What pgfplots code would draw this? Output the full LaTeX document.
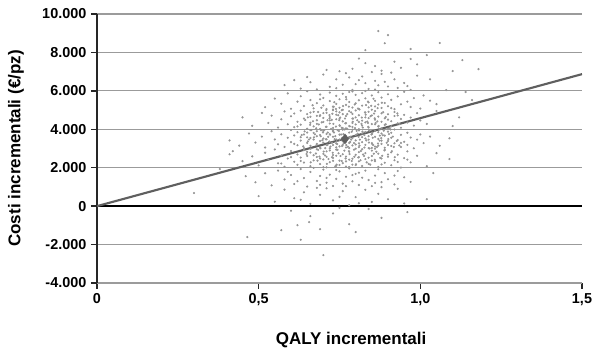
\documentclass[border=0pt]{standalone}
\usepackage{pgfplots}
\pgfplotsset{compat=1.18}
\usepackage{fontspec}
\setmainfont{Liberation Sans}
\definecolor{gridc}{RGB}{155,155,155}
\definecolor{dotc}{RGB}{150,150,150}
\definecolor{linec}{RGB}{95,95,95}
\begin{document}
\begin{tikzpicture}
\begin{axis}[
  scale only axis, width=363.75pt, height=201.75pt,
  xmin=0, xmax=1.5, ymin=-4000, ymax=10000,
  scaled y ticks=false, scaled x ticks=false,
  axis x line*=bottom, axis y line*=left,
  axis line style={-},
  x axis line style={gridc, line width=0.8pt},
  y axis line style={black!85, line width=1.3pt},
  xtick={0,0.5,1,1.5}, xticklabels={0,{0,5},{1,0},{1,5}},
  ytick={-4000,-2000,0,2000,4000,6000,8000,10000},
  yticklabels={-4.000,-2.000,0,2.000,4.000,6.000,8.000,10.000},
  /pgf/number format/assume math mode=true,
  tick align=outside, major tick length=4.5pt,
  tick style={black!85, line width=1.1pt},
  ymajorgrids, grid style={gridc, line width=0.8pt},
  ticklabel style={font=\bfseries\fontsize{10.8}{12}\selectfont},
  label style={font=\bfseries\fontsize{12.75}{14}\selectfont},
  xlabel={QALY incrementali}, ylabel={Costi incrementali (€/pz)},
  xlabel style={at={(axis description cs:0.524,-0.212)}, anchor=center},
  ylabel style={at={(axis description cs:-0.167,0.5)}, anchor=center},
]
\coordinate (ll) at (rel axis cs:0,0);
\coordinate (ur) at (rel axis cs:1,1);
\addplot[only marks, color=dotc, mark=*, mark size=0.6pt, mark options={draw=none, fill=dotc}] table {
x y
0.87 9110
0.90 8900
0.89 8480
1.06 8490
0.97 8180
0.83 8120
1.02 7860
1.13 7600
0.97 7660
1.18 7130
1.10 7030
0.83 7440
0.86 7290
0.79 7150
0.92 7520
0.88 7050
0.75 7020
0.94 7200
0.81 7680
0.71 7090
0.99 7380
1.03 6600
1.08 6040
0.63 6120
0.58 6300
0.66 6450
0.70 6850
0.74 6600
0.77 6920
0.80 6350
0.82 6750
0.84 6100
0.86 6520
0.88 6880
0.90 6230
0.92 6600
0.95 6410
0.97 6050
0.99 6790
0.72 6210
0.76 6320
0.79 6050
0.81 6560
0.85 6980
0.87 6290
0.89 6470
0.93 6150
0.68 6080
0.61 6560
0.74 6140
0.83 6400
0.91 6950
0.78 6700
0.65 6720
0.96 6250
0.86 6070
1.14 5940
1.16 5520
1.05 5310
1.01 5760
0.52 5150
0.55 5600
0.57 5330
0.59 5870
0.60 5070
0.62 5440
0.63 5720
0.64 5210
0.65 5980
0.66 5520
0.67 5090
0.68 5360
0.69 5810
0.70 5240
0.70 5630
0.71 5050
0.72 5470
0.72 5910
0.73 5180
0.74 5740
0.74 5320
0.75 5560
0.76 5010
0.76 5850
0.77 5270
0.77 5680
0.78 5420
0.79 5130
0.79 5970
0.80 5350
0.80 5790
0.81 5060
0.81 5510
0.82 5230
0.82 5880
0.83 5610
0.84 5140
0.84 5400
0.85 5760
0.85 5020
0.86 5480
0.87 5290
0.87 5930
0.88 5110
0.88 5650
0.89 5370
0.90 5820
0.90 5200
0.91 5530
0.92 5050
0.93 5710
0.94 5300
0.95 5950
0.96 5440
0.97 5160
0.98 5620
1.00 5080
1.03 5490
0.78 5940
0.73 5030
0.86 5190
0.69 5560
0.75 5120
0.83 5990
0.91 5100
0.45 4620
0.48 4180
0.51 4850
0.53 4330
0.54 4710
0.56 4090
0.57 4520
0.58 4930
0.59 4260
0.60 4680
0.61 4110
0.61 4820
0.62 4390
0.63 4970
0.63 4240
0.64 4560
0.65 4030
0.65 4790
0.66 4340
0.66 4650
0.67 4150
0.67 4910
0.68 4470
0.68 4280
0.69 4730
0.69 4020
0.70 4590
0.70 4380
0.71 4860
0.71 4130
0.72 4640
0.72 4300
0.73 4990
0.73 4070
0.74 4520
0.74 4760
0.75 4210
0.75 4880
0.76 4410
0.76 4060
0.77 4690
0.77 4320
0.78 4940
0.78 4170
0.79 4560
0.79 4800
0.80 4250
0.80 4620
0.81 4010
0.81 4730
0.82 4450
0.82 4190
0.83 4870
0.83 4360
0.84 4580
0.84 4090
0.85 4720
0.85 4270
0.86 4950
0.86 4500
0.87 4140
0.87 4660
0.88 4390
0.88 4830
0.89 4230
0.89 4570
0.90 4040
0.90 4780
0.91 4420
0.91 4160
0.92 4690
0.92 4900
0.93 4310
0.94 4540
0.94 4080
0.95 4750
0.96 4350
0.97 4610
0.98 4190
0.99 4840
1.00 4460
1.02 4280
1.05 4950
1.10 4170
1.12 4620
0.74 4930
0.79 4330
0.83 4620
0.70 4840
0.77 4050
0.86 4260
0.72 4460
0.80 4980
0.88 4040
0.76 4790
0.84 4910
0.66 4870
0.93 4720
0.62 4150
0.90 4500
0.68 4700
0.81 4380
0.75 4540
0.79 4120
0.41 3420
0.44 3150
0.47 3780
0.49 3310
0.51 3620
0.52 3050
0.54 3900
0.55 3470
0.56 3220
0.57 3740
0.58 3080
0.59 3560
0.60 3960
0.60 3330
0.61 3680
0.62 3170
0.62 3850
0.63 3410
0.64 3020
0.64 3730
0.65 3290
0.65 3580
0.66 3960
0.66 3140
0.67 3470
0.67 3810
0.68 3240
0.68 3640
0.69 3060
0.69 3390
0.70 3920
0.70 3520
0.71 3180
0.71 3760
0.72 3350
0.72 3010
0.73 3610
0.73 3890
0.74 3260
0.74 3470
0.75 3720
0.75 3110
0.76 3980
0.76 3380
0.77 3650
0.77 3050
0.78 3290
0.78 3830
0.79 3540
0.79 3160
0.80 3700
0.80 3420
0.81 3070
0.81 3940
0.82 3330
0.82 3590
0.83 3190
0.83 3860
0.84 3460
0.84 3020
0.85 3750
0.85 3280
0.86 3610
0.86 3920
0.87 3150
0.87 3500
0.88 3780
0.88 3240
0.89 3040
0.89 3670
0.90 3390
0.90 3880
0.91 3130
0.91 3560
0.92 3270
0.92 3990
0.93 3440
0.94 3710
0.94 3080
0.95 3350
0.96 3820
0.96 3190
0.97 3570
0.98 3010
0.99 3460
1.00 3730
1.01 3280
1.03 3620
1.06 3140
1.09 3530
0.73 3180
0.78 3540
0.70 3300
0.82 3780
0.75 3460
0.86 3100
0.68 3900
0.79 3980
0.72 3740
0.84 3640
0.77 3350
0.66 3550
0.88 3410
0.74 3060
0.80 3210
0.63 3590
0.91 3820
0.76 3190
0.83 3520
0.69 3700
0.85 3030
0.71 3480
0.81 3270
0.94 3290
0.65 3830
0.78 3020
0.87 3850
0.61 3240
0.90 3180
0.73 3930
0.42 2860
0.41 2700
0.45 2340
0.48 2590
0.50 2120
0.52 2780
0.53 2410
0.55 2950
0.56 2230
0.57 2640
0.58 2050
0.59 2480
0.60 2870
0.61 2310
0.62 2690
0.62 2150
0.63 2530
0.64 2920
0.64 2270
0.65 2610
0.66 2080
0.66 2790
0.67 2380
0.68 2560
0.68 2960
0.69 2190
0.70 2720
0.70 2430
0.71 2020
0.71 2850
0.72 2290
0.73 2660
0.73 2510
0.74 2110
0.74 2940
0.75 2370
0.76 2700
0.76 2240
0.77 2580
0.77 2060
0.78 2830
0.78 2420
0.79 2160
0.80 2670
0.80 2990
0.81 2330
0.81 2550
0.82 2090
0.83 2760
0.83 2450
0.84 2200
0.85 2890
0.85 2610
0.86 2340
0.87 2040
0.87 2730
0.88 2480
0.89 2260
0.89 2930
0.90 2570
0.91 2130
0.91 2800
0.92 2390
0.93 2680
0.94 2010
0.95 2500
0.96 2850
0.97 2280
0.99 2620
1.02 2080
1.05 2760
1.09 2450
0.72 2900
0.79 2470
0.67 2650
0.84 2520
0.75 2140
0.63 2350
0.81 2810
0.70 2030
0.86 2990
0.77 2330
0.60 2550
0.88 2170
0.74 2620
0.82 2960
0.69 2480
0.93 2300
0.78 2040
0.65 2820
0.90 2690
0.73 2360
0.57 2220
0.80 2140
0.85 2380
0.71 2570
0.96 2420
0.38 1930
0.46 1560
0.49 1240
0.52 1710
0.54 1080
0.56 1850
0.58 1390
0.60 1620
0.61 1150
0.63 1930
0.64 1460
0.65 1020
0.66 1780
0.68 1310
0.69 1570
0.70 1900
0.71 1220
0.72 1640
0.73 1050
0.74 1420
0.75 1810
0.76 1170
0.77 1530
0.78 1960
0.79 1290
0.80 1680
0.81 1100
0.82 1480
0.83 1850
0.84 1360
0.85 1040
0.86 1590
0.87 1920
0.88 1250
0.89 1720
0.90 1400
0.92 1130
0.93 1830
0.95 1500
0.97 1260
1.04 1720
0.67 1990
0.74 1880
0.81 1740
0.62 1300
0.77 1040
0.86 1210
0.71 1470
0.79 1620
0.59 1790
0.92 1590
0.69 1110
0.30 680
0.50 520
0.55 230
0.58 860
0.61 410
0.64 720
0.66 120
0.69 590
0.71 930
0.73 300
0.76 780
0.78 50
0.80 470
0.83 850
0.85 220
0.87 640
0.90 360
0.93 900
1.02 360
0.95 140
0.68 950
0.75 480
0.81 150
0.63 330
0.88 990
0.96 -310
0.465 -1610
0.57 -1250
0.62 -990
0.656 -830
0.69 -1200
0.63 -1750
0.78 -940
0.70 -2550
0.73 -380
0.84 -150
0.66 -520
0.88 -610
0.60 -240
0.80 -1350
0.75 -90
0.713 4470
0.842 3930
0.765 2890
0.694 5120
0.818 4280
0.737 3640
0.881 5380
0.652 3370
0.796 2570
0.905 4060
0.728 4810
0.854 3180
0.677 2740
0.771 5560
0.834 2280
0.748 3910
0.893 4640
0.706 3020
0.812 5030
0.659 4230
0.786 3460
0.927 3390
0.741 2160
0.867 4410
0.699 3840
0.823 2690
0.757 4990
0.638 3110
0.875 3670
0.782 4150
0.716 2450
0.848 5220
0.763 3280
0.689 4690
0.806 3770
0.912 2860
0.734 5410
0.859 2410
0.671 3580
0.792 4560
0.827 3050
0.753 2610
0.885 4890
0.721 3720
0.838 4330
0.684 2930
0.774 4020
0.901 3490
0.746 4730
0.815 2390
0.663 3960
0.869 3260
0.729 2780
0.797 5290
0.852 3820
0.708 4130
0.781 2710
0.936 4270
0.759 3560
0.644 4480
0.831 4760
0.718 3360
0.876 2510
0.768 4310
0.692 3640
0.843 3000
0.739 5060
0.809 3610
0.887 3930
0.682 2370
0.776 3090
0.859 4570
0.724 4020
0.801 2180
0.667 5250
0.833 3420
0.752 4610
0.918 3080
0.701 2840
0.788 3870
0.864 2830
0.735 3490
0.648 2710
0.822 4090
0.779 5180
0.713 3190
0.896 3300
0.757 2350
0.838 5440
0.686 4250
0.805 4470
0.743 3230
0.871 4170
0.697 3430
0.816 2870
0.762 3750
0.929 4830
0.727 2550
0.853 3560
0.674 3740
0.791 4390
0.845 2160
0.719 4560
0.783 3340
0.908 3990
0.751 4180
0.656 3470
0.827 3700
0.709 5000
0.874 3410
0.769 2480
0.691 3010
0.836 4400
0.744 3960
0.812 3150
0.882 2620
0.731 4280
0.661 2990
0.798 4060
0.857 4820
0.715 3610
0.774 4790
0.921 2550
0.758 3130
0.684 4900
0.849 3730
0.737 2070
0.807 5080
0.866 3080
0.703 3960
0.784 3610
0.642 3890
0.826 2610
0.749 4470
0.893 4260
0.722 3100
0.839 4130
0.678 4050
0.795 2940
0.761 5210
0.915 3620
0.733 3830
0.856 2730
0.688 2580
0.803 3920
0.741 3370
0.868 5100
0.711 2200
0.819 4610
0.766 3990
0.652 4620
0.879 3540
0.726 4490
0.841 3310
0.695 4360
0.786 4880
0.747 2750
0.903 3750
0.679 3180
0.832 5260
0.771 3180
0.714 3830
0.862 4330
0.739 4140
0.808 2530
0.668 4420
0.889 2900
0.755 3730
0.821 3880
0.705 2640
0.846 4680
0.779 2860
0.633 3700
0.874 4000
0.732 5170
0.813 3460
0.693 3950
0.767 4560
0.935 3160
0.744 2930
0.851 3240
0.719 4740
0.795 3280
0.661 2280
0.829 4880
0.757 4080
0.884 3690
0.708 3480
0.788 2350
0.855 5590
0.727 3300
};
\addplot[black, line width=1.5pt] coordinates {(0,0) (1.5,0)};
\addplot[linec, line width=1.6pt] coordinates {(0,0) (1.5,6870)};
\addplot[only marks, mark=diamond*, mark size=3.6pt, mark options={draw=linec, fill=linec}] coordinates {(0.767,3500)};
\end{axis}
\pgfresetboundingbox
\path ([shift={(-72.75pt,-54.75pt)}]ll) rectangle ([shift={(13.5pt,10.5pt)}]ur);
\end{tikzpicture}
\end{document}
